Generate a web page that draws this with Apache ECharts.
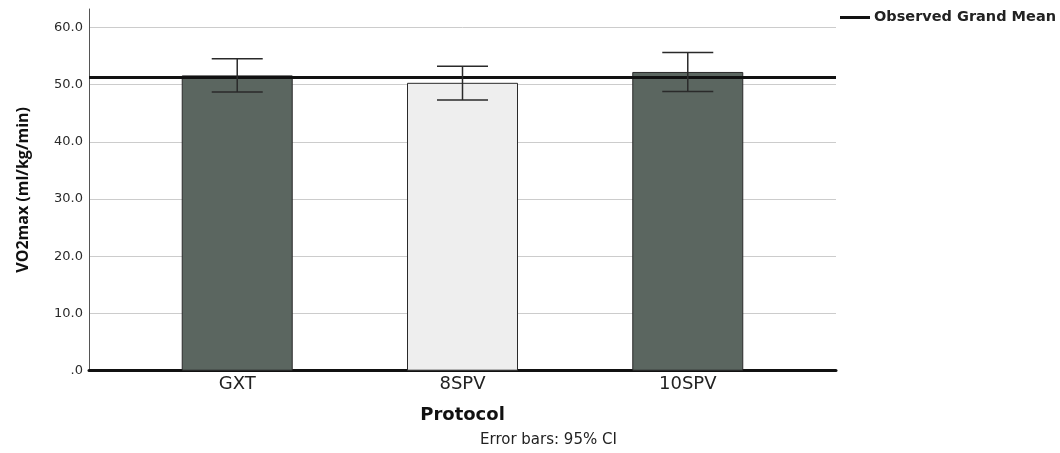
<!DOCTYPE html>
<html>
<head>
<meta charset="utf-8">
<script src="https://cdn.jsdelivr.net/npm/echarts@6/dist/echarts.min.js"></script>
<style>
  html, body { margin: 0; padding: 0; background: #ffffff; }
  #chart { width: 1060px; height: 453px; }
</style>
</head>
<body>
<div id="chart"></div>
<script>
// VO2max by test protocol: group means with 95% confidence intervals
const categories = ['GXT', '8SPV', '10SPV'];
const means = [51.6, 50.3, 52.2];
const ciLower = [48.7, 47.3, 48.8];
const ciUpper = [54.5, 53.2, 55.6];
const grandMean = 51.3;
const yTicks = [0, 10, 20, 30, 40, 50, 60];

const barColors = ['#5b6660', '#eeeeee', '#5b6660'];

const chart = echarts.init(document.getElementById('chart'), null, { renderer: 'canvas' });

const barData = categories.map((c, i) => ({
  value: [i, means[i]],
  itemStyle: { color: barColors[i] }
}));
const errData = categories.map((c, i) => [i, ciLower[i], ciUpper[i]]);

const option = {
  animation: false,
  backgroundColor: '#ffffff',
  textStyle: { fontFamily: 'DejaVu Sans' },
  grid: { left: 89, right: 224, top: 9, bottom: 82.3, containLabel: false },
  legend: {
    show: true,
    data: ['Observed Grand Mean'],
    top: 10,
    left: 840,
    padding: 0,
    itemWidth: 30,
    itemHeight: 3,
    itemGap: 5,
    icon: 'rect',
    textStyle: { fontSize: 14.5, color: '#222222', fontFamily: 'DejaVu Sans', fontWeight: 'bold', padding: [0, 0, 0, -1] },
    selectedMode: false
  },
  title: {
    text: 'Error bars: 95% CI',
    left: 480,
    top: 433,
    padding: 0,
    textStyle: { fontSize: 15, fontWeight: 'normal', color: '#222222', fontFamily: 'DejaVu Sans' }
  },
  xAxis: {
    type: 'value',
    min: -0.658,
    max: 2.658,
    name: 'Protocol',
    nameLocation: 'middle',
    nameGap: 36,
    nameTextStyle: { fontSize: 18, fontWeight: 'bold', color: '#111111', fontFamily: 'DejaVu Sans' },
    axisLine: { show: true, onZero: false, lineStyle: { color: '#111111', width: 3 } },
    axisTick: { show: false },
    splitLine: { show: false },
    axisLabel: {
      customValues: [0, 1, 2],
      formatter: v => categories[Math.round(v)],
      fontSize: 18,
      color: '#222222',
      margin: 5,
      fontFamily: 'DejaVu Sans'
    }
  },
  yAxis: {
    type: 'value',
    min: 0,
    max: 63.2,
    interval: 10,
    name: 'VO2max (ml/kg/min)',
    nameLocation: 'middle',
    nameGap: 58,
    nameRotate: 90,
    nameTextStyle: { fontSize: 16, fontWeight: 'bold', color: '#111111', fontFamily: 'Open Sans' },
    axisLine: { show: true, onZero: false, lineStyle: { color: '#555555', width: 1 } },
    axisTick: { show: false },
    axisLabel: {
      showMaxLabel: false,
      formatter: v => (v === 0 ? '.0' : v.toFixed(1)),
      fontSize: 13,
      color: '#2a2a2a',
      margin: 6
    },
    splitLine: {
      show: true,
      lineStyle: {
        color: yTicks.map(() => '#cccccc').concat(['rgba(0,0,0,0)']),
        width: 1
      }
    }
  },
  series: [
    {
      name: 'Mean',
      type: 'bar',
      data: barData,
      barWidth: 111,
      itemStyle: { borderColor: '#2a2a2a', borderWidth: 1 },
      z: 2
    },
    {
      name: 'Observed Grand Mean',
      type: 'line',
      data: [],
      color: '#111111',
      lineStyle: { color: '#111111', width: 3 },
      markLine: {
        silent: true,
        symbol: ['none', 'none'],
        label: { show: false },
        lineStyle: { color: '#111111', width: 3, type: 'solid' },
        data: [{ yAxis: grandMean }]
      },
      z: 4
    },
    {
      name: '95% CI',
      type: 'custom',
      data: errData,
      z: 5,
      renderItem: function (params, api) {
        const x = api.value(0);
        const lo = api.coord([x, api.value(1)]);
        const hi = api.coord([x, api.value(2)]);
        const half = 25.5;
        const style = { stroke: '#2a2a2a', lineWidth: 1.5 };
        return {
          type: 'group',
          children: [
            { type: 'line', shape: { x1: lo[0], y1: lo[1], x2: hi[0], y2: hi[1] }, style },
            { type: 'line', shape: { x1: hi[0] - half, y1: hi[1], x2: hi[0] + half, y2: hi[1] }, style },
            { type: 'line', shape: { x1: lo[0] - half, y1: lo[1], x2: lo[0] + half, y2: lo[1] }, style }
          ]
        };
      }
    }
  ]
};

chart.setOption(option);
</script>
</body>
</html>
